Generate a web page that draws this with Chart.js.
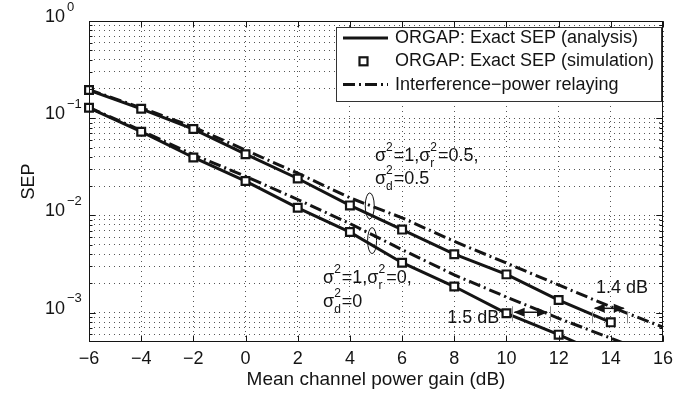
<!DOCTYPE html>
<html>
<head>
<meta charset="utf-8">
<title>SEP vs mean channel power gain</title>
<script src="https://cdn.jsdelivr.net/npm/chart.js@4.4.0/dist/chart.umd.min.js"></script>
<style>
  html, body { margin: 0; padding: 0; background: #fff; }
</style>
</head>
<body>
<canvas id="sep" width="691" height="394"></canvas>
<script>
// values (SEP, log axis)
const gainDb      = [-6, -4, -2, 0, 2, 4, 6, 8, 10, 12, 14];
const gainDbRelay = [-6, -4, -2, 0, 2, 4, 6, 8, 10, 12, 14, 16];

// sigma_r^2 = 0.5, sigma_d^2 = 0.5
const sepAnaHalf   = [0.195, 0.125, 0.0774, 0.0427, 0.0240, 0.0127, 0.00716, 0.0040, 0.00248, 0.00135, 0.000796];
const sepSimHalf   = [0.195, 0.125, 0.0774, 0.0427, 0.0240, 0.0127, 0.00716, 0.0040, 0.00248, 0.00135, 0.000796];
const sepRelayHalf = [0.197, 0.128, 0.0813, 0.0470, 0.0272, 0.0152, 0.00946, 0.00542, 0.00324, 0.00193, 0.00115, 0.00071];

// sigma_r^2 = 0, sigma_d^2 = 0
const sepAnaZero   = [0.128, 0.0727, 0.0395, 0.0226, 0.0120, 0.00675, 0.00327, 0.00186, 0.000986, 0.000595, 0.00034];
const sepSimZero   = [0.128, 0.0727, 0.0395, 0.0226, 0.0120, 0.00675, 0.00327, 0.00186, 0.000986, 0.000595, null];
const sepRelayZero = [0.129, 0.0748, 0.0422, 0.0253, 0.0146, 0.00826, 0.00445, 0.00245, 0.00145, 0.000875, 0.000547, 0.00034];

const seriesLabels = ['ORGAP: Exact SEP (analysis)', 'ORGAP: Exact SEP (simulation)', 'Interference\u2212power relaying'];
const xTicks = [-6, -4, -2, 0, 2, 4, 6, 8, 10, 12, 14, 16];
const yDecades = [1e-3, 1e-2, 1e-1, 1];
const yExponents = ['\u22123', '\u22122', '\u22121', '0'];

const INK = '#141414';
const DASHDOT = [12, 4, 2, 4];
const FONT = '"Liberation Sans", Arial, Helvetica, sans-serif';
const F = s => s + 'px ' + FONT;

Chart.defaults.font.family = FONT;
Chart.defaults.color = INK;

const pts = (xs, ys) => xs.map((x, i) => ({ x: x, y: ys[i] }));

// every 1..9 x 10^k inside the y range, for the dotted minor grid
function logGridValues(lo, hi){
    const out = [];
    for(let k = Math.floor(Math.log10(lo)); k <= Math.ceil(Math.log10(hi)); k++){
        for(let m = 1; m <= 9; m++){
            const v = +(m * Math.pow(10, k)).toPrecision(3);
            if(v > lo * 1.0001 && v < hi * 0.9999) out.push(v);
        }
    }
    return out;
}

// superscript / subscript text helper: segs like {t:'σ'} or {sup:'2', sub:'r'}
function drawRich(ctx, x, y, segs){
    segs.forEach(s => {
        if(s.t !== undefined){
            ctx.font = F(18);
            ctx.fillText(s.t, x, y);
            x += ctx.measureText(s.t).width;
        } else {
            ctx.font = F(12);
            let w = 0;
            if(s.sup){ ctx.fillText(s.sup, x, y - 8); w = ctx.measureText(s.sup).width; }
            if(s.sub){ ctx.fillText(s.sub, x, y + 8); w = Math.max(w, ctx.measureText(s.sub).width); }
            x += w + 1;
        }
    });
}

function arrowHead(ctx, x, y, dir){
    ctx.beginPath();
    ctx.moveTo(x, y);
    ctx.lineTo(x - dir * 11, y - 4.5);
    ctx.lineTo(x - dir * 11, y + 4.5);
    ctx.closePath();
    ctx.fill();
}

// MATLAB-like box, inward ticks, y labels, annotations and legend
const figureDecor = {
    id: 'figureDecor',
    afterDatasetsDraw(chart){
        const { ctx, chartArea: a, scales: { x, y } } = chart;
        ctx.save();
        ctx.strokeStyle = INK;
        ctx.fillStyle = INK;
        ctx.lineWidth = 1;

        const L = Math.round(a.left) + 0.5, R = Math.round(a.right) - 0.5;
        const T = Math.round(a.top) + 0.5, B = Math.round(a.bottom) - 0.5;
        ctx.strokeRect(L, T, R - L, B - T);

        // inward ticks
        ctx.beginPath();
        xTicks.forEach(v => {
            const px = Math.round(x.getPixelForValue(v)) + 0.5;
            ctx.moveTo(px, B); ctx.lineTo(px, B - 6);
            ctx.moveTo(px, T); ctx.lineTo(px, T + 6);
        });
        logGridValues(y.min, y.max).concat(yDecades).forEach(v => {
            const py = Math.round(y.getPixelForValue(v)) + 0.5;
            const len = yDecades.includes(v) ? 6 : 3;
            ctx.moveTo(L, py); ctx.lineTo(L + len, py);
            ctx.moveTo(R, py); ctx.lineTo(R - len, py);
        });
        ctx.stroke();

        // annotations
        ctx.textBaseline = 'middle';
        ctx.textAlign = 'left';
        const a1x = x.getPixelForValue(4.96), a1y = y.getPixelForValue(0.0408);
        drawRich(ctx, a1x, a1y, [{ t: '\u03c3' }, { sup: '2' }, { t: '=1,\u03c3' }, { sup: '2', sub: 'r' }, { t: '=0.5,' }]);
        drawRich(ctx, a1x, a1y + 23, [{ t: '\u03c3' }, { sup: '2', sub: 'd' }, { t: '=0.5' }]);
        const a2x = x.getPixelForValue(2.97), a2y = y.getPixelForValue(0.00229);
        drawRich(ctx, a2x, a2y, [{ t: '\u03c3' }, { sup: '2' }, { t: '=1,\u03c3' }, { sup: '2', sub: 'r' }, { t: '=0,' }]);
        drawRich(ctx, a2x, a2y + 24, [{ t: '\u03c3' }, { sup: '2', sub: 'd' }, { t: '=0' }]);

        ctx.lineWidth = 1;
        [[4.76, 0.01254], [4.85, 0.00552]].forEach(([ex, ey]) => {
            ctx.beginPath();
            ctx.ellipse(x.getPixelForValue(ex), y.getPixelForValue(ey), 4.5, 13, 0, 0, Math.PI * 2);
            ctx.stroke();
        });

        // dB gap arrows
        const gaps = [
            { from: 10.2, to: 11.67, at: 0.00101, tickTop: -6, tickBot: 9, text: '1.5 dB', tx: 7.73, ty: 0.000882 },
            { from: 13.27, to: 14.61, at: 0.00111, tickTop: 3, tickBot: 15, text: '1.4 dB', tx: 13.43, ty: 0.0018 }
        ];
        gaps.forEach(g => {
            const x0 = x.getPixelForValue(g.from), x1 = x.getPixelForValue(g.to);
            const py = y.getPixelForValue(g.at);
            ctx.strokeStyle = '#888';
            ctx.beginPath();
            [x0, x1].forEach(px => { const p = Math.round(px) + 0.5; ctx.moveTo(p, py + g.tickTop); ctx.lineTo(p, py + g.tickBot); });
            ctx.stroke();
            ctx.strokeStyle = INK;
            ctx.lineWidth = 1.5;
            ctx.beginPath(); ctx.moveTo(x0 + 3, py); ctx.lineTo(x1 - 3, py); ctx.stroke();
            arrowHead(ctx, x0 + 2, py, -1);
            arrowHead(ctx, x1 - 2, py, 1);
            ctx.lineWidth = 1;
            ctx.font = F(18);
            ctx.fillText(g.text, x.getPixelForValue(g.tx), y.getPixelForValue(g.ty));
        });

        // legend
        const lx = Math.round(a.right) - 327, ly = Math.round(a.top) + 6, lw = 325, lh = 74;
        ctx.fillStyle = '#fff';
        ctx.fillRect(lx, ly, lw, lh);
        ctx.strokeStyle = '#333';
        ctx.strokeRect(lx + 0.5, ly + 0.5, lw, lh);
        ctx.fillStyle = INK;
        ctx.strokeStyle = INK;
        seriesLabels.forEach((lab, i) => {
            const ry = ly + 11 + i * 23.3;
            if(i === 1){
                ctx.lineWidth = 2.2;
                ctx.fillStyle = '#fff';
                ctx.fillRect(lx + 23.5, ry - 4, 8, 8);
                ctx.strokeRect(lx + 23.5, ry - 4, 8, 8);
                ctx.fillStyle = INK;
            } else {
                ctx.lineWidth = 3;
                ctx.setLineDash(i === 2 ? DASHDOT : []);
                ctx.beginPath(); ctx.moveTo(lx + 7, ry); ctx.lineTo(lx + 52, ry); ctx.stroke();
                ctx.setLineDash([]);
            }
            ctx.font = F(18);
            ctx.fillText(lab, lx + 59, ry);
        });
        ctx.restore();
    },
    afterDraw(chart){
        const { ctx, scales: { y } } = chart;
        ctx.save();
        ctx.fillStyle = INK;
        ctx.textBaseline = 'middle';
        ctx.textAlign = 'left';
        yDecades.forEach((v, i) => {
            const py = y.getPixelForValue(v);
            ctx.font = F(18);
            ctx.fillText('10', 45, py - 4);
            const w = ctx.measureText('10').width;
            ctx.font = F(13);
            ctx.fillText(yExponents[i], 45 + w + 2, py - 14);
        });
        ctx.restore();
    }
};

const simStyle = { showLine: false, clip: false, pointStyle: 'rect', pointRadius: 5.5,
                   pointBorderWidth: 2.2, pointBorderColor: INK, pointBackgroundColor: '#fff' };

new Chart(document.getElementById('sep'), {
    type: 'line',
    data: {
        datasets: [
            Object.assign({ label: seriesLabels[1], data: pts(gainDb, sepSimHalf) }, simStyle),
            Object.assign({ label: seriesLabels[1], data: pts(gainDb, sepSimZero) }, simStyle),
            { label: seriesLabels[0], data: pts(gainDb, sepAnaHalf), borderColor: INK, borderWidth: 3, pointRadius: 0 },
            { label: seriesLabels[0], data: pts(gainDb, sepAnaZero), borderColor: INK, borderWidth: 3, pointRadius: 0 },
            { label: seriesLabels[2], data: pts(gainDbRelay, sepRelayHalf), borderColor: INK, borderWidth: 3, borderDash: DASHDOT, pointRadius: 0 },
            { label: seriesLabels[2], data: pts(gainDbRelay, sepRelayZero), borderColor: INK, borderWidth: 3, borderDash: DASHDOT, pointRadius: 0 }
        ]
    },
    options: {
        responsive: false,
        animation: false,
        layout: { padding: { left: 0, top: 21, right: 28, bottom: 0 } },
        plugins: { legend: { display: false }, tooltip: { enabled: false } },
        scales: {
            x: {
                type: 'linear', min: -6, max: 16,
                afterBuildTicks: s => { s.ticks = xTicks.map(v => ({ value: v })); },
                afterFit: s => { s.height = 52; },
                ticks: { font: { size: 18 }, color: INK, padding: 6, maxRotation: 0,
                         callback: v => (v < 0 ? '\u2212' + Math.abs(v) : String(v)) },
                grid: { color: '#555', lineWidth: 1, drawTicks: false },
                border: { display: false, dash: [1, 4] },
                title: { display: true, text: 'Mean channel power gain (dB)', font: { size: 19 }, color: INK, padding: { top: 0, bottom: 3 } }
            },
            y: {
                type: 'logarithmic', min: 5e-4, max: 1,
                afterBuildTicks: s => { s.ticks = logGridValues(5e-4, 1).concat(yDecades).sort((p, q) => p - q).map(v => ({ value: v })); },
                afterFit: s => { s.width = 89; },
                ticks: { display: false },
                grid: { color: '#555', lineWidth: 1, drawTicks: false },
                border: { display: false, dash: [1, 4] },
                title: { display: true, text: 'SEP', font: { size: 18 }, color: INK, padding: { top: 18, bottom: 0 } }
            }
        }
    },
    plugins: [figureDecor]
});
</script>
</body>
</html>
